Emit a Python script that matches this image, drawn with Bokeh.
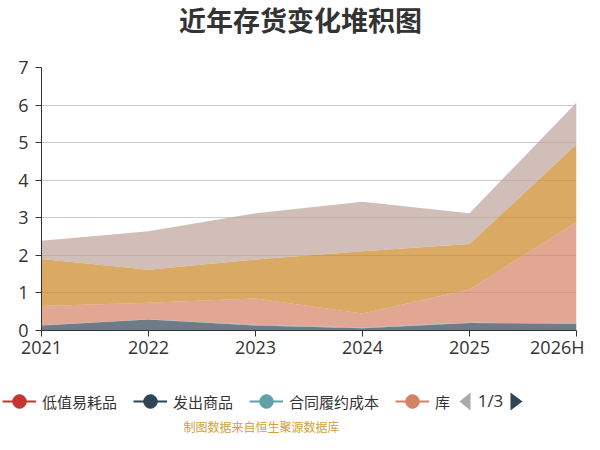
from bokeh.plotting import figure
from bokeh.layouts import column
from bokeh.models import ColumnDataSource, Label, Legend, LegendItem, FixedTicker, PolyAnnotation
from bokeh.embed import file_html
from bokeh.resources import INLINE

# data (亿元)
years = ['2021', '2022', '2023', '2024', '2025', '2026H']
names = ['低值易耗品', '发出商品', '合同履约成本', '库存商品', '原材料', '在产品']
low_value = [0.01, 0.01, 0.01, 0.01, 0.01, 0.01]
shipped = [0.12, 0.28, 0.12, 0.05, 0.19, 0.17]
contract_cost = [0.01, 0.01, 0.02, 0.02, 0.01, 0.01]
goods = [0.51, 0.44, 0.70, 0.37, 0.88, 2.70]
raw = [1.25, 0.88, 1.04, 1.66, 1.21, 2.07]
wip = [0.49, 1.02, 1.23, 1.32, 0.82, 1.11]
colors = ['#c23531', '#2f4554', '#61a0a8', '#d48265', '#ca8622', '#bda29a']
legend_labels = ['低值易耗品', '发出商品', '合同履约成本', '库']

FONT = 'Noto Sans CJK SC'
NUM_FONT = 'Open Sans'
W = 584


def strip(h):
	'''empty figure used as a pixel canvas for title / legend'''
	f = figure(width=W, height=h, x_range=(0, W), y_range=(0, h),
		output_backend="svg", toolbar_location=None, x_axis_type=None, y_axis_type=None,
		min_border=0)
	f.frame_align = False
	f.outline_line_color = None
	f.grid.grid_line_color = None
	return f


xs = list(range(len(years)))
source = ColumnDataSource(data=dict(x=xs))
for name, vals in zip(names, [low_value, shipped, contract_cost, goods, raw, wip]):
	source.data[name] = vals

# title
t = strip(55)
t.add_layout(Label(x=300, y=36, text='近年存货变化堆积图', text_font=FONT, text_font_size='27px',
	text_font_style='bold', text_color='#333333', text_align='center', text_baseline='middle'))

# main chart
p = figure(width=W, height=315, x_range=(0, 5), y_range=(0, 7),
	output_backend="svg", toolbar_location=None,
	min_border_left=41, min_border_right=8, min_border_top=12, min_border_bottom=40)
p.outline_line_color = None

p.varea_stack(stackers=names, x='x', color=colors, fill_alpha=0.7, source=source)

p.xaxis.ticker = FixedTicker(ticks=xs)
p.xaxis.major_label_overrides = {i: y for i, y in enumerate(years)}
p.yaxis.ticker = FixedTicker(ticks=list(range(8)))
for ax in [p.xaxis[0], p.yaxis[0]]:
	ax.axis_line_color = '#333333'
	ax.major_tick_line_color = '#333333'
	ax.major_tick_out = 6
	ax.major_tick_in = 0
	ax.minor_tick_line_color = None
	ax.major_label_text_font = NUM_FONT
	ax.major_label_text_font_size = '18px'
	ax.major_label_text_color = '#333333'
p.xaxis.major_label_standoff = -2
p.yaxis.major_label_standoff = 7
p.xgrid.grid_line_color = None
p.ygrid.grid_line_color = '#cccccc'

# legend strip, first page of three
q = strip(64)
items = []
for lab, c in zip(legend_labels, colors[:4]):
	r1 = q.line([-100, -90], [-100, -100], line_color=c, line_width=2)
	r2 = q.scatter([-100], [-100], size=16, fill_color=c, line_color=c)
	items.append(LegendItem(label=lab, renderers=[r1, r2]))
legend = Legend(items=items, location=(2, 13), orientation='horizontal',
	label_text_font=FONT, label_text_font_size='15px', label_text_color='#333333',
	glyph_width=34, glyph_height=40, label_height=16, label_standoff=6, spacing=16,
	padding=0, margin=0, border_line_alpha=0, background_fill_alpha=0)
q.add_layout(legend, 'center')

# pager arrows
q.add_layout(PolyAnnotation(xs=[459, 470, 470], ys=[33, 42, 24], fill_color='#aaaaaa',
	fill_alpha=1, line_color=None))
q.add_layout(PolyAnnotation(xs=[522, 510, 510], ys=[33, 42, 24], fill_color='#2f4554',
	fill_alpha=1, line_color=None))
q.add_layout(Label(x=490, y=34, text='1/3', text_font=NUM_FONT, text_font_size='17px',
	text_color='#333333', text_align='center', text_baseline='middle'))

q.add_layout(Label(x=261, y=8, text='制图数据来自恒生聚源数据库', text_font=FONT,
	text_font_size='12px', text_color='#d4a03c', text_align='center', text_baseline='middle'))

layout = column(t, p, q, spacing=0)
open("out.html", "w").write(file_html(layout, INLINE))
